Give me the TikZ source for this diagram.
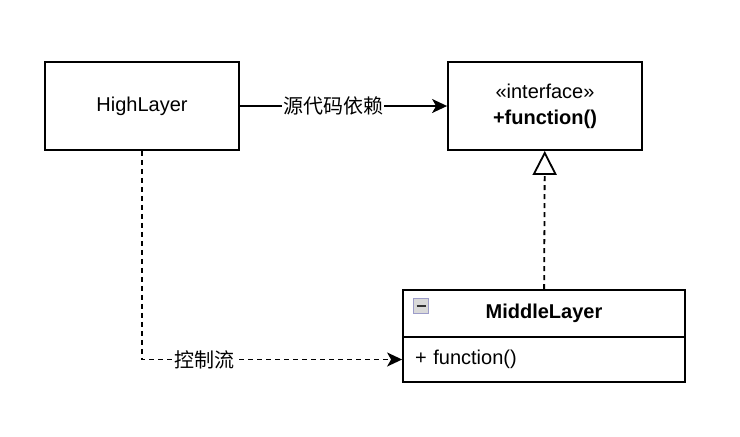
\documentclass[tikz,border=0pt]{standalone}
\usepackage{fontspec}
\setmainfont{Liberation Sans}
\newfontfamily\cjk{Noto Sans CJK SC}
\usetikzlibrary{arrows.meta}

\begin{document}
\begin{tikzpicture}[
    x=1pt, y=-1pt,
    box/.style={rectangle, draw, line width=1.8pt, minimum width=194pt, minimum height=88pt, font=\fontsize{20}{26}\selectfont, align=center, inner sep=0pt},
    umlhead/.style={rectangle, draw, line width=1.8pt, minimum width=282pt, minimum height=47pt, font=\fontsize{20}{25}\selectfont\bfseries, inner sep=0pt},
    umlbody/.style={rectangle, draw, line width=1.8pt, minimum width=282pt, minimum height=45pt, font=\fontsize{20}{25}\selectfont, text width=258pt, align=left, inner sep=0pt},
    fold/.style={rectangle, draw=gray!70!blue!60, fill=gray!30, line width=0.8pt, minimum size=15pt, inner sep=0pt,
        path picture={\draw[black!80, line width=2pt] ([xshift=-4.5pt]path picture bounding box.center) -- ([xshift=4.5pt]path picture bounding box.center);}},
    lbl/.style={fill=white, font=\cjk\fontsize{20}{24}\selectfont, inner sep=1pt},
    dep/.style={-{Stealth[length=15pt, width=14pt, inset=4pt]}, line width=1.8pt},
    flow/.style={dep, dash pattern=on 5pt off 4pt},
    realize/.style={-{Triangle[open, length=24pt, width=24pt]}, line width=1.8pt, dash pattern=on 5pt off 4pt}
]
\useasboundingbox (0,0) rectangle (740,437);

% Classes
\node[box] (high) at (142,106) {HighLayer};
\node[box] (iface) at (545,106) {«interface»\\\textbf{+function()}};

\node[umlhead] (midhead) at (544,313.5) {MiddleLayer};
\node[umlbody] (midbody) at (544,359.5) {+ function()};
\node[fold] (foldicon) at (421,306) {};

% Liens
\draw[dep] (high) -- node[lbl, pos=0.45] {源代码依赖} (iface);
\draw[flow] (high.south) |- node[lbl, pos=0.62] {控制流} (midbody.west);
\draw[realize] (midhead) -- (iface);

\end{tikzpicture}
\end{document}
